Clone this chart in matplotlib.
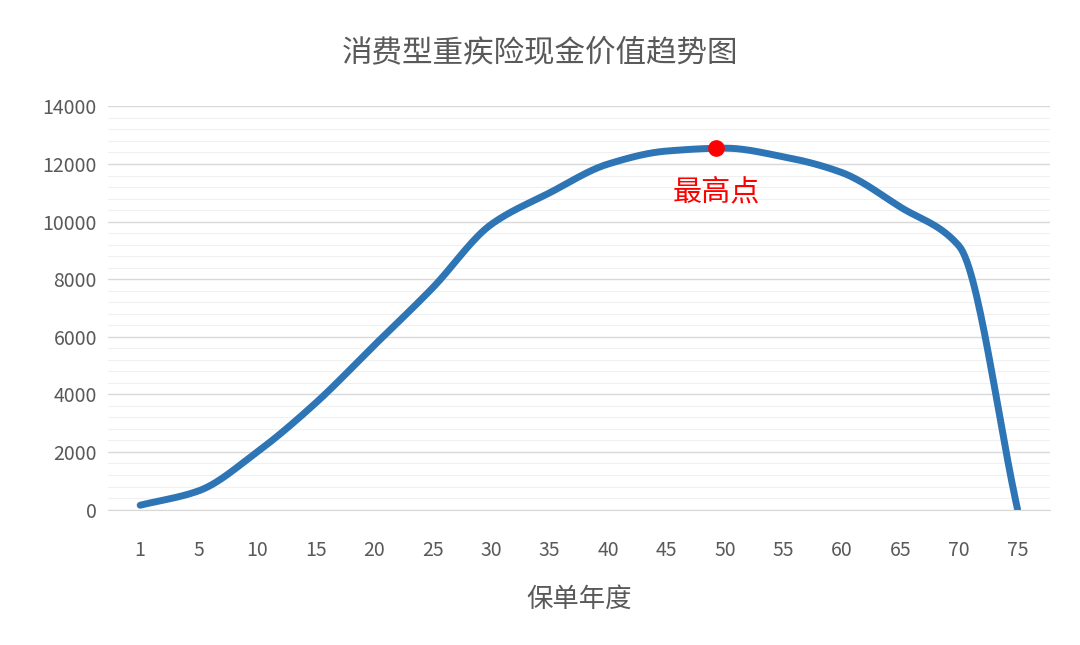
import numpy as np
import matplotlib
matplotlib.use("Agg")
import matplotlib.pyplot as plt
plt.rcParams['font.family'] = ['Noto Sans CJK SC', 'DejaVu Sans']

years = ["1","5","10","15","20","25","30","35","40","45","50","55","60","65","70","75"]
values = [150,650,2000,3700,5700,7700,9900,11000,12000,12450,12550,12250,11700,10500,9150,0]
peak_pos = 9.85
peak_val = 12550

def pchip(x, y, n=30):
    x = np.asarray(x, float); y = np.asarray(y, float)
    d = np.diff(y)
    m = np.zeros_like(y)
    for i in range(1, len(y) - 1):
        if d[i-1] * d[i] > 0:
            m[i] = 2 / (1 / d[i-1] + 1 / d[i])
    m[0] = d[0]; m[-1] = d[-1]
    xs, ys = [], []
    for i in range(len(x) - 1):
        for t in np.linspace(0, 1, n, endpoint=False):
            h00 = 2*t**3 - 3*t**2 + 1; h10 = t**3 - 2*t**2 + t
            h01 = -2*t**3 + 3*t**2; h11 = t**3 - t**2
            xs.append(x[i] + t)
            ys.append(h00*y[i] + h10*m[i] + h01*y[i+1] + h11*m[i+1])
    xs.append(x[-1]); ys.append(y[-1])
    return np.array(xs), np.array(ys)

fig = plt.figure(figsize=(10.8, 6.45), dpi=100)
ax = fig.add_axes([0.1, 0.21, 0.872, 0.625])
pos = np.arange(len(years))
sx, sy = pchip(pos, values)
ax.set_yticks(np.arange(0, 14001, 400), minor=True)
ax.set_yticks(np.arange(0, 14001, 2000))
ax.grid(which='major', axis='y', color='#d9d9d9', lw=1)
ax.grid(which='minor', axis='y', color='#f0f0f0', lw=0.8)
ax.set_axisbelow(True)
ax.plot(sx, sy, color='#2e75b6', lw=5, solid_capstyle='round')
ax.plot([peak_pos], [peak_val], 'o', color='#ff0000', ms=11)
ax.text(peak_pos, peak_val-1550, "最高点", color='#ff0000', fontsize=21, ha='center', va='center')
ax.set_xticks(pos)
ax.set_xticklabels(years)
ax.set_xlim(-0.55, len(years)-0.45)
ax.set_ylim(0, 14000)
for s in ['top', 'right', 'left']:
    ax.spines[s].set_visible(False)
ax.spines['bottom'].set_color('#d9d9d9')
ax.tick_params(which='both', length=0, labelsize=14, colors='#595959')
ax.tick_params(axis='x', pad=22)
ax.tick_params(axis='y', pad=8)
ax.set_xlabel("保单年度", fontsize=19, color='#595959', labelpad=18)
fig.text(0.5, 0.905, "消费型重疾险现金价值趋势图", ha='center', fontsize=22, color='#595959')
fig.savefig("out.png")
